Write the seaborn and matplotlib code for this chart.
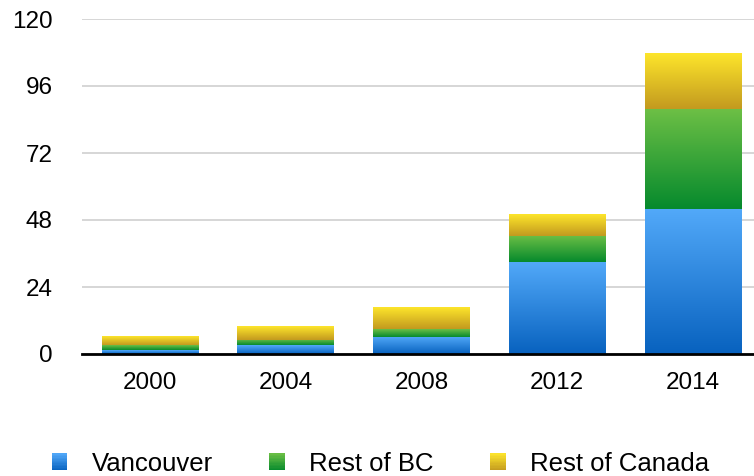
import numpy as np
import pandas as pd
import matplotlib
matplotlib.use("Agg")
import matplotlib.pyplot as plt
import seaborn as sns
from matplotlib.patches import Rectangle, Patch
from matplotlib.legend_handler import HandlerPatch
from matplotlib.colors import to_rgb

# data
years = ["2000", "2004", "2008", "2012", "2014"]
vancouver = [1.4, 3.2, 6.1, 33.0, 52.0]
rest_bc = [1.7, 1.8, 2.8, 9.4, 35.6]
rest_canada = [3.0, 5.0, 7.6, 7.8, 20.0]
series = ["Vancouver", "Rest of BC", "Rest of Canada"]
y_ticks = [0, 24, 48, 72, 96, 120]

# gradient colours (top, bottom)
grads = {
    "Vancouver": ("#52a9f9", "#0862bf"),
    "Rest of BC": ("#6cbf45", "#068a2d"),
    "Rest of Canada": ("#fde52b", "#c39a1f"),
}

df = pd.DataFrame({"year": years, "Vancouver": vancouver,
                   "Rest of BC": rest_bc, "Rest of Canada": rest_canada})
df["cum_bc"] = df["Vancouver"] + df["Rest of BC"]
df["cum_total"] = df["cum_bc"] + df["Rest of Canada"]

sns.set_style("white")
plt.rcParams["font.family"] = ["Liberation Sans", "DejaVu Sans"]
plt.rcParams["text.color"] = "black"

fig = plt.figure(figsize=(7.54, 4.76), dpi=100)
ax = fig.add_axes([82 / 754, (476 - 354) / 476, 1 - 82 / 754, (354 - 19) / 476])

# stacked bars drawn as overlapping cumulative layers
layers = [("cum_total", "Rest of Canada"), ("cum_bc", "Rest of BC"), ("Vancouver", "Vancouver")]
layer_patches = {}
for col, name in layers:
    n_before = len(ax.patches)
    sns.barplot(data=df, x="year", y=col, color=grads[name][1], width=0.71,
                saturation=1, ax=ax, linewidth=0)
    layer_patches[name] = ax.patches[n_before:]


def gradient_img(top, bottom, n=64):
    t = np.linspace(0, 1, n)[:, None]
    c0, c1 = np.array(to_rgb(top)), np.array(to_rgb(bottom))
    return (c0 * (1 - t) + c1 * t)[:, None, :]


# paint each segment with a vertical gradient
order = ["Vancouver", "Rest of BC", "Rest of Canada"]
for i in range(len(years)):
    lower = 0.0
    for name in order:
        p = layer_patches[name][i]
        x0 = p.get_x()
        x1 = x0 + p.get_width()
        upper = p.get_y() + p.get_height()
        ax.imshow(gradient_img(*grads[name]), extent=[x0, x1, lower, upper],
                  aspect="auto", interpolation="bilinear", zorder=3)
        lower = upper
for p in ax.patches:
    p.set_visible(False)

ax.set_xlim(-0.5, 4.45)
ax.set_ylim(0, 120)
ax.set_yticks(y_ticks)
ax.set_xlabel("")
ax.set_ylabel("")
ax.yaxis.grid(True, color="#d0d0d0", linewidth=1.2)
ax.set_axisbelow(True)
for s in ["left", "right", "top"]:
    ax.spines[s].set_visible(False)
ax.spines["bottom"].set_color("black")
ax.spines["bottom"].set_linewidth(2)
ax.spines["bottom"].set_zorder(5)
ax.tick_params(axis="y", length=0, pad=21, labelsize=17.5, labelcolor="black")
ax.tick_params(axis="x", length=0, pad=13, labelsize=17.5, labelcolor="black")


class GradientHandler(HandlerPatch):
    def create_artists(self, legend, orig_handle, xdescent, ydescent,
                       width, height, fontsize, trans):
        top, bottom = grads[orig_handle.get_label()]
        c0, c1 = np.array(to_rgb(top)), np.array(to_rgb(bottom))
        n = 12
        arts = []
        for k in range(n):
            t = (k + 0.5) / n
            col = c1 * (1 - t) + c0 * t
            r = Rectangle((-xdescent, -ydescent + height * k / n), width, height / n + 0.3,
                          facecolor=col, edgecolor="none", transform=trans)
            arts.append(r)
        return arts


handles = [Patch(label=name) for name in series]
fig.legend(handles=handles, labels=series, loc="center left",
           bbox_to_anchor=(52 / 754, 1 - 464 / 476), ncol=3, frameon=False,
           fontsize=18.5, handlelength=0.6, handleheight=0.62, handletextpad=0.95,
           columnspacing=2.2, borderpad=0, borderaxespad=0,
           handler_map={Patch: GradientHandler()})

fig.savefig("out.png", dpi=100)
